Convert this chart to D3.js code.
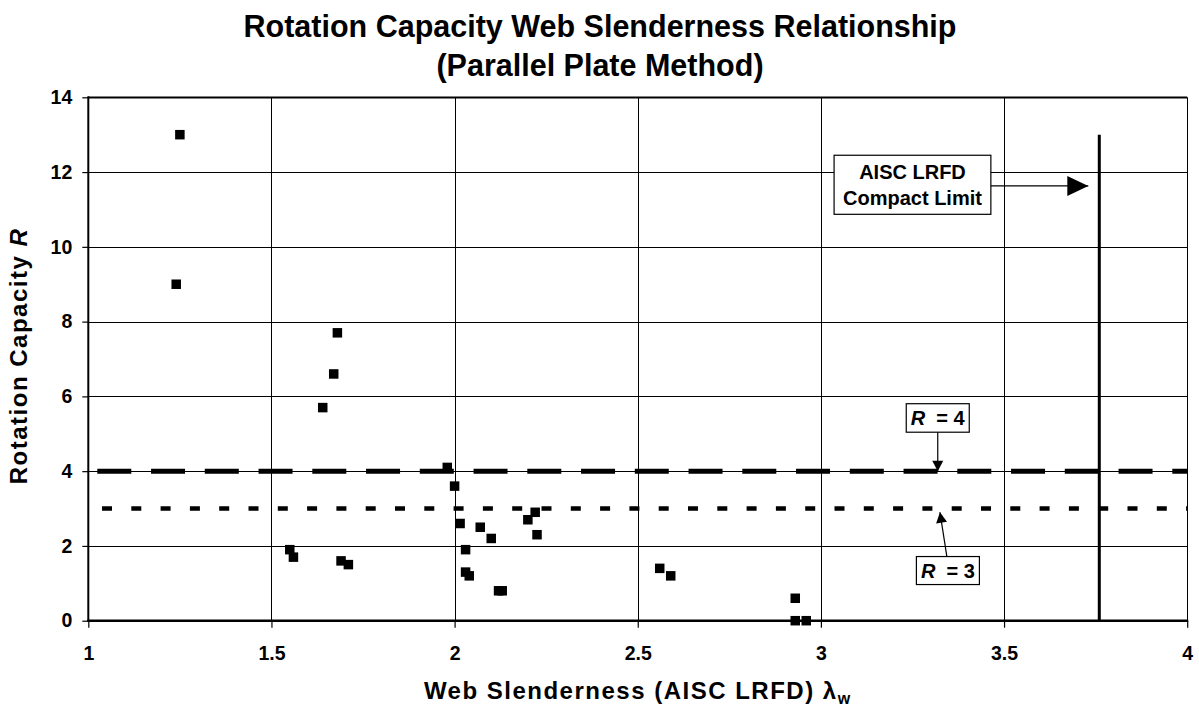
<!DOCTYPE html>
<html><head><meta charset="utf-8">
<script src="https://cdn.jsdelivr.net/npm/d3@7"></script>
<style>
body{margin:0;background:#fff;}
svg text{font-family:Arial,"Liberation Sans",sans-serif;font-weight:bold;fill:#000;}
</style></head>
<body><svg id="chart" width="1199" height="711"></svg>
<script>
// ---- data ----
const slenderness = [1.25,1.24,1.68,1.67,1.64,1.98,2.00,2.015,2.07,2.10,2.20,2.22,2.225,2.03,2.03,2.04,2.12,2.13,1.55,1.56,1.69,1.71,2.56,2.59,2.93,2.93,2.96];
const rotationR   = [13,9,7.7,6.6,5.7,4.1,3.6,2.6,2.5,2.2,2.7,2.9,2.3,1.9,1.3,1.2,0.8,0.8,1.9,1.7,1.6,1.5,1.4,1.2,0.6,0,0];
const xTicks = [1,1.5,2,2.5,3,3.5,4];
const yTicks = [0,2,4,6,8,10,12,14];
const limitR4 = 4, limitR3 = 3;
const compactLimit = 3.76, compactTop = 13;

const svg = d3.select("#chart");
const L=88.3, R=1187.2, T=97.3, B=620.7;
const x = d3.scaleLinear().domain([1,4]).range([L,R]);
const y = d3.scaleLinear().domain([0,14]).range([B,T]);

// grid
const g = svg.append("g");
g.selectAll(".hg").data(yTicks.filter(d=>d>0)).enter().append("line")
  .attr("x1",L).attr("x2",R).attr("y1",d=>Math.round(y(d))+0.5).attr("y2",d=>Math.round(y(d))+0.5)
  .attr("stroke","#000").attr("stroke-width",d=>d===14?2:1);
g.selectAll(".vg").data(xTicks.filter(d=>d>1)).enter().append("line")
  .attr("y1",T).attr("y2",B).attr("x1",d=>Math.round(x(d))+0.5).attr("x2",d=>Math.round(x(d))+0.5)
  .attr("stroke","#000").attr("stroke-width",1);

// axes
const yAxis = d3.axisLeft(y).tickValues(yTicks).tickSize(6).tickPadding(10).tickFormat(d3.format("d"));
const ya = svg.append("g").attr("transform",`translate(${L},0)`).call(yAxis);
const xAxis = d3.axisBottom(x).tickValues(xTicks).tickSize(7).tickPadding(18).tickFormat(d=>String(d));
const xa = svg.append("g").attr("transform",`translate(0,${B})`).call(xAxis);
[ya,xa].forEach(a=>{a.select(".domain").remove(); a.selectAll(".tick line").attr("stroke","#000").attr("stroke-width",1.2);
  a.selectAll("text").style("font-size","19.5px").style("font-family","Arial, 'Liberation Sans', sans-serif").style("font-weight","bold").attr("fill","#000");});
svg.append("line").attr("x1",L).attr("x2",L).attr("y1",T-1).attr("y2",B+1).attr("stroke","#000").attr("stroke-width",2);
svg.append("line").attr("x1",L-1).attr("x2",R+1).attr("y1",B).attr("y2",B).attr("stroke","#000").attr("stroke-width",2.5);

// reference lines
svg.append("line").attr("x1",x(1)).attr("x2",x(4)).attr("y1",y(limitR4)).attr("y2",y(limitR4))
  .attr("stroke","#000").attr("stroke-width",5).attr("stroke-dasharray","34,19.75").attr("stroke-dashoffset",44.75);
svg.append("line").attr("x1",x(1)).attr("x2",x(4)).attr("y1",y(limitR3)).attr("y2",y(limitR3))
  .attr("stroke","#000").attr("stroke-width",4.5).attr("stroke-dasharray","10,19.3").attr("stroke-dashoffset",15.6);
svg.append("line").attr("x1",x(compactLimit)).attr("x2",x(compactLimit)).attr("y1",y(compactTop)).attr("y2",y(0))
  .attr("stroke","#000").attr("stroke-width",3);

// points
const ms = 9.5;
svg.selectAll(".pt").data(slenderness.map((d,i)=>[d,rotationR[i]])).enter().append("rect")
  .attr("x",d=>x(d[0])-ms/2).attr("y",d=>y(d[1])-ms/2).attr("width",ms).attr("height",ms).attr("fill","#000");

// annotations
function arrow(x1,y1,x2,y2,len,half){
  svg.append("line").attr("x1",x1).attr("y1",y1).attr("x2",x2).attr("y2",y2).attr("stroke","#000").attr("stroke-width",1.2);
  const a=Math.atan2(y2-y1,x2-x1);
  const bx=x2-len*Math.cos(a), by=y2-len*Math.sin(a);
  const px=-Math.sin(a)*half, py=Math.cos(a)*half;
  svg.append("path").attr("d",`M${x2},${y2}L${bx+px},${by+py}L${bx-px},${by-py}Z`).attr("fill","#000");
}
function rLabel(cx,cy,val,w,h){
  svg.append("rect").attr("x",cx-w/2).attr("y",cy-h/2).attr("width",w).attr("height",h).attr("fill","#fff").attr("stroke","#000").attr("stroke-width",1.2);
  const t=svg.append("text").attr("x",cx).attr("y",cy+7).attr("text-anchor","middle").style("font-size","20px");
  t.append("tspan").style("font-style","italic").text("R");
  t.append("tspan").text("\u00a0 = "+val);
}
// R=4
arrow(x(3.319), y(limitR4)-39, x(3.319), y(limitR4), 10.5, 5.5);
rLabel(x(3.319), y(limitR4)-53.2, 4, 63, 28.5);
// R=3
arrow(x(3.344), y(limitR3)+48.3, x(3.325), y(limitR3)+3.7, 10.5, 5.5);
rLabel(x(3.344)+1, y(limitR3)+62, 3, 63, 28);
// compact limit
arrow(x(3.464), y(11.63), x(3.73), y(11.63), 21, 10);
svg.append("rect").attr("x",x(3.036)).attr("y",y(12.45)).attr("width",x(3.464)-x(3.036)).attr("height",y(10.87)-y(12.45))
  .attr("fill","#fff").attr("stroke","#000").attr("stroke-width",1.2);
const cx = (x(3.036)+x(3.464))/2;
svg.append("text").attr("x",cx).attr("y",y(11.63)-7).attr("text-anchor","middle").style("font-size","20px").text("AISC LRFD");
svg.append("text").attr("x",cx).attr("y",y(11.63)+19).attr("text-anchor","middle").style("font-size","20px").text("Compact Limit");

// titles
svg.append("text").attr("x",600).attr("y",37).attr("text-anchor","middle").style("font-size","30.5px").text("Rotation Capacity Web Slenderness Relationship");
svg.append("text").attr("x",600).attr("y",76).attr("text-anchor","middle").style("font-size","30.5px").text("(Parallel Plate Method)");
const xt = svg.append("text").attr("x",(L+R)/2).attr("y",699).attr("text-anchor","middle").style("font-size","24px").style("letter-spacing","1.5px");
xt.append("tspan").text("Web Slenderness (AISC LRFD) \u03bb");
xt.append("tspan").attr("dy",5).style("font-size","16px").text("w");
const yt = svg.append("text").attr("transform",`translate(27,356) rotate(-90)`).attr("text-anchor","middle").style("font-size","24px").style("letter-spacing","1.5px");
yt.append("tspan").text("Rotation Capacity ");
yt.append("tspan").style("font-style","italic").text("R");
</script></body></html>
